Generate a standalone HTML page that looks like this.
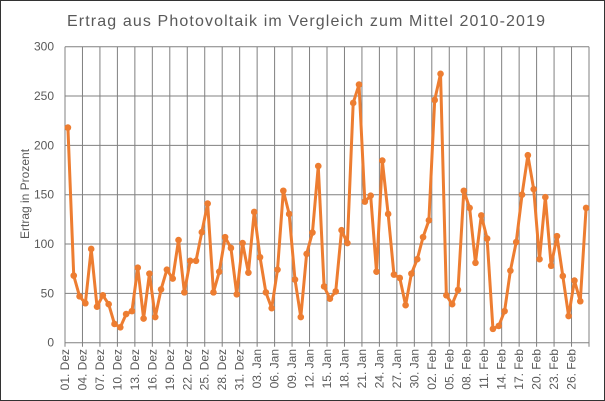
<!DOCTYPE html>
<html><head><meta charset="utf-8"><style>
html,body{margin:0;padding:0;background:#fff}
svg{display:block;font-family:"Liberation Sans",sans-serif}
</style></head><body>
<svg id="chart" width="605" height="401" xmlns="http://www.w3.org/2000/svg">
<rect x="0.5" y="0.5" width="604" height="400" fill="#fff" stroke="#333" stroke-width="1"/>
<text x="67" y="26" font-size="16" fill="#595959" textLength="478" lengthAdjust="spacing">Ertrag aus Photovoltaik im Vergleich zum Mittel 2010-2019</text>
<text transform="translate(29,194) rotate(-90)" text-anchor="middle" font-size="12" fill="#595959">Ertrag in Prozent</text>
<g id="grid"></g><g id="yticks"></g><g id="xticks"></g><g id="series"></g>
</svg>
<script>
const values = [218,68,47,40,95,36.5,48,39,19,15.6,29,32,76,24.5,70,26,54,74,65,104,51,83,83,112,141,51,72,107,96,49,
101,71,132.5,86.6,51,35,74,154,130.5,64,26,90,111.6,179,57,44.6,52,114,101,243,261.6,143,149,72,184.6,130.5,69,65.6,38,70,
84.6,107,124,246,272.5,48,39,53.5,154,136.6,81,129,105.5,14,17,32,73,102,150,190,155.6,84.6,147.5,78,108,67.6,27,63,42,136.6];
const yTicks = [0,50,100,150,200,250,300];
const xLabels = ["01. Dez","04. Dez","07. Dez","10. Dez","13. Dez","16. Dez","19. Dez","22. Dez","25. Dez","28. Dez","31. Dez","03. Jan","06. Jan","09. Jan","12. Jan","15. Jan","18. Jan","21. Jan","24. Jan","27. Jan","30. Jan","02. Feb","05. Feb","08. Feb","11. Feb","14. Feb","17. Feb","20. Feb","23. Feb","26. Feb"];
const NS="http://www.w3.org/2000/svg";
const x0=65,x1=589,y0=342.7,y1=46.7,yMax=300,nCat=90;
const cw=(x1-x0)/nCat;
function xs(i){return x0+cw*(i+0.5);}
function ys(v){return y0-(v/yMax)*(y0-y1);}
function mk(tag,attrs,parent){const e=document.createElementNS(NS,tag);for(const k in attrs)e.setAttribute(k,attrs[k]);parent.appendChild(e);return e;}
const grid=document.getElementById('grid'),yt=document.getElementById('yticks'),xt=document.getElementById('xticks'),ser=document.getElementById('series');
yTicks.forEach(v=>{
  const l=mk('line',{x1:x0,x2:x1,y1:ys(v),y2:ys(v),stroke:'#808080','stroke-width':1},grid);
  
  
  const t=mk('text',{x:54,y:ys(v)+4,'text-anchor':'end','font-size':12,fill:'#595959'},yt);
  t.textContent=v;
  
  
});
for(let k=0;k<=nCat/3;k++){
  const gx=x0+cw*3*k;
  const l=mk('line',{x1:gx,x2:gx,y1:y1,y2:y0+4,stroke:'#808080','stroke-width':1},grid);
  
  
}
xLabels.forEach((s,k)=>{
  const gx=x0+cw*3*k+4;
  const t=mk('text',{transform:`translate(${gx},349) rotate(-90)`,'text-anchor':'end','font-size':12,fill:'#595959'},xt);
  t.textContent=s;
  
  
});
const pl=mk('polyline',{points:values.map((v,i)=>xs(i)+','+ys(v)).join(' '),fill:'none',stroke:'#ED7D31','stroke-width':3,'stroke-linejoin':'round'},ser);


values.forEach((v,i)=>{
  const c=mk('circle',{cx:xs(i),cy:ys(v),r:3.3,fill:'#ED7D31'},ser);
  
  
});
</script>
</body></html>
